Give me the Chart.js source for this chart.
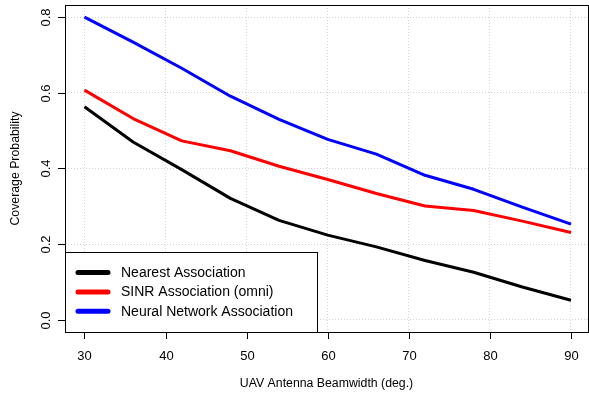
<!DOCTYPE html>
<html>
<head>
<meta charset="utf-8">
<script src="https://cdn.jsdelivr.net/npm/chart.js@4/dist/chart.umd.min.js"></script>
<style>
  html, body { margin: 0; padding: 0; background: #fff; overflow: hidden; }
  #wrap { width: 589px; height: 393px; }
</style>
</head>
<body>
<div id="wrap"><canvas id="c" width="589" height="393"></canvas></div>
<script>
// ---- data ----
var beamwidth = [30, 36, 42, 48, 54, 60, 66, 72, 78, 84, 90];
var nearest   = [0.563, 0.470, 0.397, 0.321, 0.263, 0.224, 0.193, 0.157, 0.126, 0.087, 0.052];
var sinrOmni  = [0.607, 0.532, 0.473, 0.447, 0.406, 0.371, 0.334, 0.301, 0.289, 0.261, 0.231];
var neural    = [0.800, 0.734, 0.665, 0.591, 0.530, 0.477, 0.438, 0.382, 0.345, 0.298, 0.253];
var xTicks = [30, 40, 50, 60, 70, 80, 90];
var yTicks = [0.0, 0.2, 0.4, 0.6, 0.8];
var yTickLabels = ['0.0', '0.2', '0.4', '0.6', '0.8'];

var FONT = '"Liberation Sans", Arial, Helvetica, sans-serif';

function pts(ys) {
    return beamwidth.map(function(x, i) { return { x: x, y: ys[i] }; });
}

// axes, box, titles and legend drawn R-style
var rStyle = {
    id: 'rStyle',
    afterDatasetsDraw: function(chart) {
        var ctx = chart.ctx, a = chart.chartArea;
        var xs = chart.scales.x, ys = chart.scales.y;
        ctx.save();

        // legend (bottom left, white box over grid)
        var lx = a.left, ly = 252, lw = 252, lh = a.bottom - 252;
        ctx.fillStyle = '#fff';
        ctx.fillRect(lx, ly, lw, lh);
        ctx.strokeStyle = '#000';
        ctx.lineWidth = 1;
        ctx.strokeRect(lx + 0.5, ly + 0.5, lw, lh);
        ctx.font = '14px ' + FONT;
        ctx.textBaseline = 'middle';
        ctx.textAlign = 'left';
        ctx.lineCap = 'round';
        chart.data.datasets.forEach(function(ds, i) {
            var yy = 272.5 + i * 19.4;
            ctx.strokeStyle = ds.borderColor;
            ctx.lineWidth = 5;
            ctx.beginPath();
            ctx.moveTo(78, yy);
            ctx.lineTo(108, yy);
            ctx.stroke();
            ctx.fillStyle = '#000';
            ctx.fillText(ds.label, 121, yy + 0.5);
        });

        // plot box
        ctx.lineCap = 'butt';
        ctx.strokeStyle = '#000';
        ctx.lineWidth = 1;
        ctx.strokeRect(a.left + 0.5, a.top + 0.5, a.right - a.left, a.bottom - a.top);

        // x axis ticks and labels
        ctx.fillStyle = '#000';
        ctx.textAlign = 'center';
        ctx.textBaseline = 'alphabetic';
        ctx.font = '13px ' + FONT;
        xTicks.forEach(function(v) {
            var px = Math.round(xs.getPixelForValue(v)) + 0.5;
            ctx.beginPath();
            ctx.moveTo(px, a.bottom);
            ctx.lineTo(px, a.bottom + 7);
            ctx.stroke();
            ctx.fillText(String(v), px, 360);
        });

        // y axis ticks and rotated labels
        yTicks.forEach(function(v, i) {
            var py = Math.round(ys.getPixelForValue(v)) + 0.5;
            ctx.beginPath();
            ctx.moveTo(a.left - 7, py);
            ctx.lineTo(a.left, py);
            ctx.stroke();
            ctx.save();
            ctx.translate(50, py);
            ctx.rotate(-Math.PI / 2);
            ctx.fillText(yTickLabels[i], 0, 0);
            ctx.restore();
        });

        // axis titles
        ctx.font = '12.3px ' + FONT;
        ctx.fillText('UAV Antenna Beamwidth (deg.)', (a.left + a.right) / 2, 387);
        ctx.save();
        ctx.translate(18.5, (a.top + a.bottom) / 2);
        ctx.rotate(-Math.PI / 2);
        ctx.fillText('Coverage Probability', 0, 0);
        ctx.restore();

        ctx.restore();
    }
};

var gridOpts = { color: '#d3d3d3', lineWidth: 1, drawTicks: false };
var borderOpts = { display: false, dash: [1, 2] };

new Chart(document.getElementById('c'), {
    type: 'line',
    data: {
        datasets: [
            { label: 'Nearest Association', data: pts(nearest), borderColor: '#000000' },
            { label: 'SINR Association (omni)', data: pts(sinrOmni), borderColor: '#ff0000' },
            { label: 'Neural Network Association', data: pts(neural), borderColor: '#0000ff' }
        ]
    },
    options: {
        responsive: false,
        animation: false,
        devicePixelRatio: 1,
        layout: { padding: { left: 0, top: 5, right: 1, bottom: 0 } },
        elements: {
            line: { borderWidth: 3, tension: 0, fill: false, borderJoinStyle: 'round' },
            point: { radius: 0 }
        },
        plugins: {
            legend: { display: false },
            tooltip: { enabled: false }
        },
        scales: {
            x: {
                type: 'linear',
                min: 27.6,
                max: 92.1,
                afterBuildTicks: function(s) { s.ticks = xTicks.map(function(v) { return { value: v }; }); },
                afterFit: function(s) { s.height = 61; },
                ticks: { display: false },
                border: borderOpts,
                grid: gridOpts
            },
            y: {
                min: -0.032,
                max: 0.832,
                afterBuildTicks: function(s) { s.ticks = yTicks.map(function(v) { return { value: v }; }); },
                afterFit: function(s) { s.width = 65; },
                ticks: { display: false },
                border: borderOpts,
                grid: gridOpts
            }
        }
    },
    plugins: [rStyle]
});
</script>
</body>
</html>
